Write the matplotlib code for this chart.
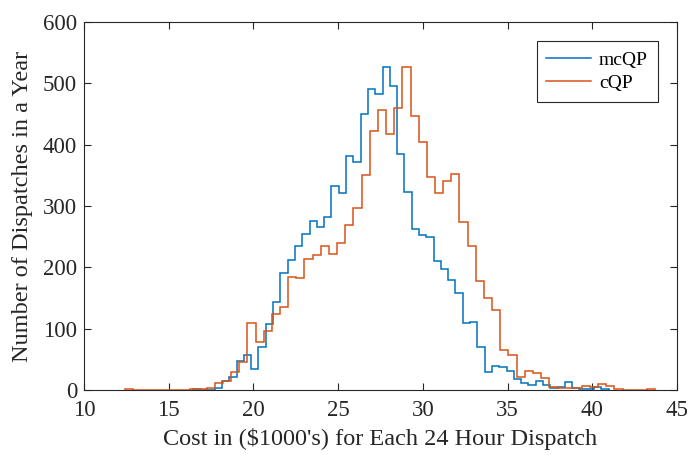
import matplotlib
matplotlib.use("Agg")
import matplotlib.pyplot as plt
import numpy as np

plt.rcParams['font.family'] = ['Liberation Serif', 'DejaVu Serif']
plt.rcParams['mathtext.fontset'] = 'stix'

# mcQP histogram (bin counts), first bin starts at blue_start, width blue_width
blue_start = 17.715 - 3 * 0.4306
blue_width = 0.4306
mcqp = [1, 0, 0,
        4, 14, 21, 48, 57, 35, 70, 107, 143, 191, 212, 234, 254, 276, 265, 282,
        333, 322, 381, 372, 450, 490, 483, 527, 496, 385, 323, 263, 253, 249,
        211, 197, 179, 158, 110, 111, 70, 29, 39, 37, 31, 18, 12, 8, 15, 8, 3,
        5, 13, 3, 1, 2, 5, 1]

# cQP histogram
orange_start = 17.715 - 11 * 0.4815
orange_width = 0.4815
cqp = [1, 0, 0, 0, 0, 0, 0, 0, 2, 2, 3,
       11, 15, 29, 45, 110, 78, 97, 124, 135, 184, 183, 214, 220, 234, 222,
       240, 269, 297, 351, 422, 456, 418, 460, 527, 447, 404, 348, 321, 340,
       352, 274, 235, 178, 150, 130, 66, 57, 22, 31, 27, 20, 5, 4, 4, 3, 6,
       5, 9, 6, 1, 0, 0, 0, 1]

xticks = [10, 15, 20, 25, 30, 35, 40, 45]
yticks = [0, 100, 200, 300, 400, 500, 600]

fig = plt.figure(figsize=(6.89, 4.55), dpi=100)
ax = fig.add_axes([84 / 689, 65 / 455, 593 / 689, 368 / 455])

blue_edges = blue_start + blue_width * np.arange(len(mcqp) + 1)
orange_edges = orange_start + orange_width * np.arange(len(cqp) + 1)

ax.stairs(mcqp, blue_edges, color='#0072BD', lw=1.1, baseline=0,
          label='mcQP', zorder=3)
ax.stairs(cqp, orange_edges, color='#D95319', lw=1.1, baseline=0,
          label='cQP', zorder=3)

ax.set_xlim(10, 45)
ax.set_ylim(0, 600)
ax.set_xticks(xticks)
ax.set_yticks(yticks)
ax.tick_params(direction='in', length=5, width=0.8, labelsize=16.5,
               top=True, right=True, colors='#262626')
ax.tick_params(axis='x', pad=7)
ax.tick_params(axis='y', pad=5)
for s in ax.spines.values():
    s.set_linewidth(0.8)
    s.set_color('#262626')

ax.set_xlabel("Cost in (\\$1000's) for Each 24 Hour Dispatch", fontsize=17.5,
              color='#262626', labelpad=5)
ax.set_ylabel("Number of Dispatches in a Year", fontsize=17.5,
              color='#262626', labelpad=7)

leg = ax.legend(loc='upper right', fontsize=14, fancybox=False,
                edgecolor='#262626', framealpha=1, handlelength=2.3,
                handletextpad=0.4, borderaxespad=1.0, borderpad=0.5,
                labelspacing=0.3)
leg.get_frame().set_linewidth(0.8)

fig.savefig('out.png', dpi=100)
